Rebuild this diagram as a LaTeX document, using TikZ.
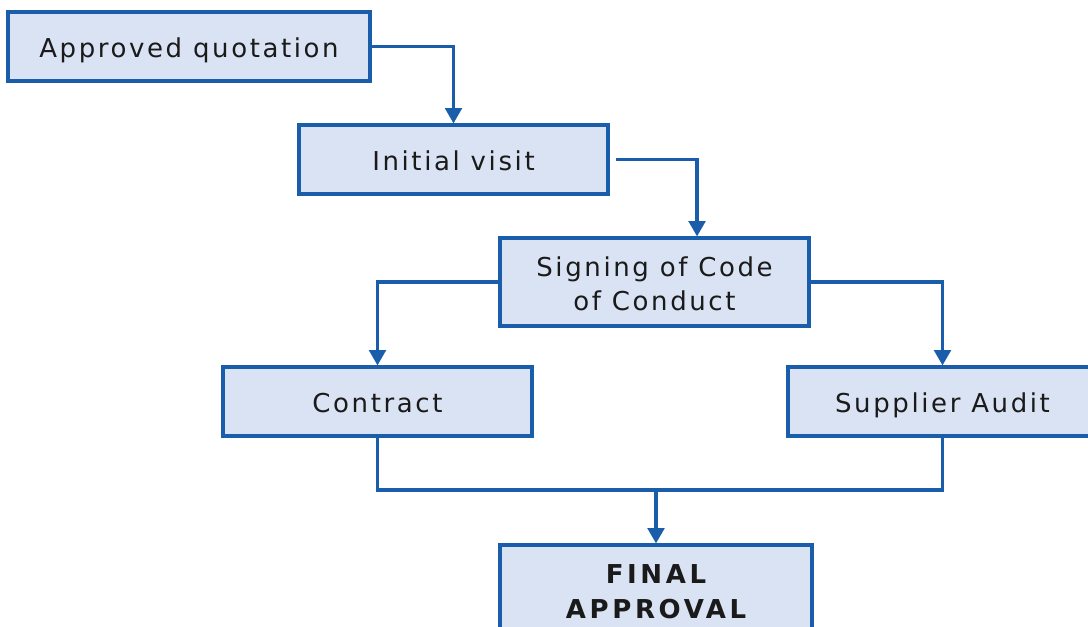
\documentclass[tikz,border=0pt]{standalone}
\usepackage{fontspec}
\setmainfont{DejaVu Sans}[LetterSpace=10]
\usetikzlibrary{arrows.meta}
\definecolor{boxblue}{HTML}{1A5EAB}
\definecolor{boxfill}{HTML}{DAE3F3}
\definecolor{labelink}{HTML}{1A1A1A}
% label text set slightly below the box centre
\newcommand{\steplabel}[1]{\raisebox{-3.5pt}[\height][\depth]{\begin{tabular}{@{}c@{}}#1\end{tabular}}}
\begin{document}
\begin{tikzpicture}[x=0.75pt,y=-0.75pt,
  stepbox/.style={draw=boxblue, fill=boxfill, line width=2.4pt, inner sep=0pt,
    minimum width=231.75pt, minimum height=51.75pt, align=center, text=labelink,
    font=\fontsize{19.5}{25.5}\selectfont},
  tallbox/.style={stepbox, minimum height=66pt},
  link/.style={draw=boxblue, line width=2.4pt},
  arr/.style={link, -{Triangle[width=12.5pt,length=11.5pt]}}]
  \useasboundingbox (0,0) rectangle (1088,627);
  \clip (0,0) rectangle (1088,627);

  % process steps
  \node[stepbox, minimum width=271.5pt] (quote) at (189,46.5) {\steplabel{Approved quotation}};
  \node[stepbox] (visit) at (453.5,159.5) {\steplabel{Initial visit}};
  \node[tallbox] (code) at (654.5,282) {\steplabel{Signing of Code\\of Conduct}};
  \node[stepbox] (contract) at (377.5,401.5) {\steplabel{Contract}};
  \node[stepbox] (audit) at (942.5,401.5) {\steplabel{Supplier Audit}};
  \node[tallbox, minimum width=234pt, font=\fontsize{19.5}{26.25}\selectfont\bfseries\addfontfeatures{LetterSpace=14}] (final) at (656,589) {\steplabel{FINAL\\APPROVAL}};

  % connectors
  \coordinate (visitout) at ([xshift=4.5pt]visit.east);
  \coordinate (codein) at ([xshift=31.9pt]code.north);
  \coordinate (join) at (656,490);
  \draw[arr] (quote.east) -| (visit.north);
  \draw[arr] (visitout) -| (codein);
  \draw[arr] (code.west) -| (contract.north);
  \draw[arr] (code.east) -| (audit.north);
  \draw[link] (contract.south) |- (join) -| (audit.south);
  \draw[arr] (join) -- (final.north);
\end{tikzpicture}
\end{document}
